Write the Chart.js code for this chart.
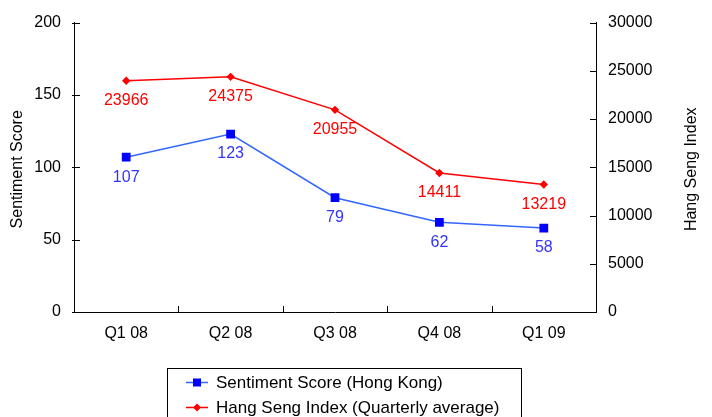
<!DOCTYPE html>
<html><head><meta charset="utf-8">
<script src="https://cdn.jsdelivr.net/npm/chart.js@4"></script>
<style>html,body{margin:0;padding:0;background:#fff}#w{width:712px;height:417px}</style>
</head><body><div id="w"><canvas id="c" width="712" height="417"></canvas></div>
<script>
const categories = ['Q1 08','Q2 08','Q3 08','Q4 08','Q1 09'];
const sentimentScore = [107, 123, 79, 62, 58];
const hangSengIndex = [23966, 24375, 20955, 14411, 13219];
const leftTicks = [0, 50, 100, 150, 200];
const rightTicks = [0, 5000, 10000, 15000, 20000, 25000, 30000];

const FONT = 'Liberation Sans, Arial, sans-serif';

const customPlugin = {
  id: 'custom',
  afterDraw(chart) {
    const ctx = chart.ctx;
    const ca = chart.chartArea;
    const x = chart.scales.x, yl = chart.scales.y, yr = chart.scales.y1;
    ctx.save();
    ctx.strokeStyle = '#000';
    ctx.lineWidth = 1;
    // y ticks
    ctx.beginPath();
    leftTicks.forEach(v => { const py = Math.round(yl.getPixelForValue(v)) + 0.5; ctx.moveTo(ca.left - 2, py); ctx.lineTo(ca.left + 6, py); });
    rightTicks.forEach(v => { const py = Math.round(yr.getPixelForValue(v)) + 0.5; ctx.moveTo(ca.right - 6, py); ctx.lineTo(ca.right, py); });
    // x ticks at boundaries
    const step = (ca.right - ca.left) / categories.length;
    for (let i = 1; i < categories.length; i++) {
      const px = Math.round(ca.left + step * i) + 0.5;
      ctx.moveTo(px, ca.bottom); ctx.lineTo(px, ca.bottom - 6);
    }
    ctx.stroke();
    // data labels
    ctx.font = '16px ' + FONT;
    ctx.textAlign = 'center';
    ctx.textBaseline = 'middle';
    chart.data.datasets.forEach((ds, di) => {
      const meta = chart.getDatasetMeta(di);
      ctx.fillStyle = ds.labelColor;
      meta.data.forEach((pt, i) => {
        ctx.fillText(String(ds.data[i]), pt.x, pt.y + 20);
      });
    });
    // axis titles
    ctx.fillStyle = '#000';
    ctx.font = '16px ' + FONT;
    ctx.save();
    ctx.translate(18, (ca.top + ca.bottom) / 2 + 2);
    ctx.rotate(-Math.PI / 2);
    ctx.fillText('Sentiment Score', 0, 0);
    ctx.restore();
    ctx.save();
    ctx.translate(692, (ca.top + ca.bottom) / 2 + 2);
    ctx.rotate(-Math.PI / 2);
    ctx.fillText('Hang Seng Index', 0, 0);
    ctx.restore();
    // legend
    ctx.strokeStyle = '#000';
    ctx.strokeRect(167.5, 368.5, 354, 60);
    const rows = [382, 407];
    chart.data.datasets.forEach((ds, di) => {
      const ry = rows[di] + 0.5;
      ctx.strokeStyle = ds.borderColor;
      ctx.lineWidth = 1.5;
      ctx.beginPath(); ctx.moveTo(186, ry); ctx.lineTo(208, ry); ctx.stroke();
      ctx.fillStyle = ds.pointBackgroundColor;
      ctx.beginPath();
      if (ds.pointStyle === 'rect') {
        ctx.rect(197 - 4, ry - 4, 8, 8);
      } else {
        ctx.moveTo(197, ry - 4); ctx.lineTo(201, ry); ctx.lineTo(197, ry + 4); ctx.lineTo(193, ry); ctx.closePath();
      }
      ctx.fill();
      ctx.fillStyle = '#000';
      ctx.font = '17px ' + FONT;
      ctx.textAlign = 'left';
      ctx.textBaseline = 'middle';
      ctx.fillText(ds.label, 216, rows[di] + 1);
    });
    ctx.restore();
  }
};

new Chart(document.getElementById('c'), {
  type: 'line',
  data: {
    labels: categories,
    datasets: [
      {
        label: 'Sentiment Score (Hong Kong)',
        data: sentimentScore,
        yAxisID: 'y',
        borderColor: '#3366FF',
        borderWidth: 1.5,
        pointStyle: 'rect',
        pointRadius: 6.2,
        pointBackgroundColor: '#0000FF',
        pointBorderColor: '#0000FF',
        pointBorderWidth: 0,
        labelColor: '#3333FF',
        tension: 0
      },
      {
        label: 'Hang Seng Index (Quarterly average)',
        data: hangSengIndex,
        yAxisID: 'y1',
        borderColor: '#FF0000',
        borderWidth: 1.5,
        pointStyle: 'rectRot',
        pointRadius: 4.2,
        pointBackgroundColor: '#FF0000',
        pointBorderColor: '#FF0000',
        pointBorderWidth: 0,
        labelColor: '#FF0000',
        tension: 0
      }
    ]
  },
  options: {
    responsive: false,
    animation: false,
    devicePixelRatio: 1,
    layout: { padding: { top: 21, bottom: 75, left: 0, right: 0 } },
    plugins: { legend: { display: false }, tooltip: { enabled: false } },
    scales: {
      x: {
        offset: true,
        afterFit(s) { s.height = 30; },
        grid: { display: false, drawTicks: false },
        border: { display: true, color: '#000', width: 1 },
        ticks: { color: '#000', font: { family: FONT, size: 16 }, padding: 12, maxRotation: 0 }
      },
      y: {
        position: 'left',
        min: 0, max: 200,
        afterFit(s) { s.width = 74; },
        afterBuildTicks(s) { s.ticks = leftTicks.map(v => ({ value: v })); },
        grid: { display: false, drawTicks: false },
        border: { display: true, color: '#000', width: 1 },
        ticks: { color: '#000', font: { family: FONT, size: 16 }, padding: 13 }
      },
      y1: {
        position: 'right',
        min: 0, max: 30000,
        afterFit(s) { s.width = 116; },
        afterBuildTicks(s) { s.ticks = rightTicks.map(v => ({ value: v })); },
        grid: { display: false, drawTicks: false },
        border: { display: true, color: '#000', width: 1 },
        ticks: { color: '#000', font: { family: FONT, size: 16 }, padding: 12, callback: v => String(v) }
      }
    }
  },
  plugins: [customPlugin]
});
</script></body></html>
